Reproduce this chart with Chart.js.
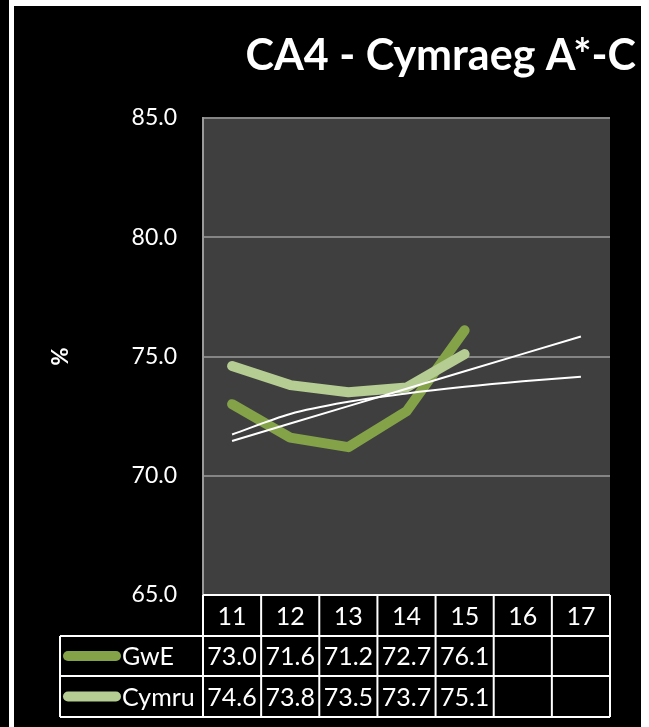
<!DOCTYPE html>
<html>
<head>
<meta charset="utf-8">
<script src="https://cdn.jsdelivr.net/npm/chart.js@4.4.1/dist/chart.umd.min.js"></script>
<style>
  html, body { margin: 0; padding: 0; background: #000; }
  #wrap { width: 649px; height: 727px; position: relative; }
</style>
</head>
<body>
<div id="wrap"><canvas id="chart" width="649" height="727"></canvas></div>
<script>
const blynyddoedd = ['11', '12', '13', '14', '15', '16', '17'];
const gweValues = [73.0, 71.6, 71.2, 72.7, 76.1, null, null];
const cymruValues = [74.6, 73.8, 73.5, 73.7, 75.1, null, null];
// trend lines for GwE (linear and logarithmic), run on to 17
const gweLinearTrend = [71.46, 72.19, 72.92, 73.65, 74.38, 75.11, 75.84];
const gweLogTrend = [71.73, 72.59, 73.10, 73.45, 73.73, 73.96, 74.15];
const yTicks = [65, 70, 75, 80, 85];

const FONT = 'Lato, "Open Sans", sans-serif';
const GWE_COLOUR = '#84a349';
const CYMRU_COLOUR = '#b5cd93';

const rows = [
    { label: 'GwE', values: gweValues, colour: GWE_COLOUR },
    { label: 'Cymru', values: cymruValues, colour: CYMRU_COLOUR }
];

// black card with the white edges, plus the grey plot background
const backdrop = {
    id: 'backdrop',
    beforeDraw(chart) {
        const { ctx, chartArea } = chart;
        ctx.save();
        ctx.fillStyle = '#000';
        ctx.fillRect(0, 0, chart.width, chart.height);
        ctx.fillStyle = '#fff';
        ctx.fillRect(9, 0, 5, chart.height);
        ctx.fillRect(14, 0, 627, 6);
        ctx.fillRect(641, 0, 8, chart.height);
        ctx.fillStyle = '#3f3f3f';
        ctx.fillRect(chartArea.left, chartArea.top, chartArea.right - chartArea.left, chartArea.bottom - chartArea.top);
        ctx.restore();
    }
};

// title and the data table under the plot
const tableAndTitle = {
    id: 'tableAndTitle',
    afterDraw(chart) {
        const { ctx, chartArea } = chart;
        const x = chart.scales.x;
        const step = x.getPixelForValue(1) - x.getPixelForValue(0);
        const y0 = chartArea.bottom, y1 = y0 + 41, y2 = y1 + 40, y3 = y2 + 41;
        const legendLeft = 60;

        ctx.save();
        ctx.fillStyle = '#fff';
        ctx.font = 'bold 43px ' + FONT;
        ctx.textAlign = 'right';
        ctx.textBaseline = 'alphabetic';
        ctx.fillText('CA4 - Cymraeg A*-C', 636, 70);

        ctx.strokeStyle = '#fff';
        ctx.lineWidth = 2;
        ctx.beginPath();
        ctx.moveTo(chartArea.left, y0); ctx.lineTo(chartArea.right, y0);
        [y1, y2, y3].forEach(yy => { ctx.moveTo(legendLeft, yy); ctx.lineTo(chartArea.right, yy); });
        ctx.moveTo(legendLeft, y1); ctx.lineTo(legendLeft, y3);
        for (let i = 0; i <= blynyddoedd.length; i++) {
            const xx = x.getPixelForValue(0) - step / 2 + i * step;
            ctx.moveTo(xx, y0); ctx.lineTo(xx, y3);
        }
        ctx.stroke();

        ctx.font = '25px ' + FONT;
        ctx.textBaseline = 'middle';
        ctx.textAlign = 'center';
        blynyddoedd.forEach((b, i) => ctx.fillText(b, x.getPixelForValue(i), (y0 + y1) / 2 + 1));

        rows.forEach((row, r) => {
            const mid = (r === 0 ? (y1 + y2) : (y2 + y3)) / 2;
            ctx.strokeStyle = row.colour;
            ctx.lineWidth = 10;
            ctx.lineCap = 'round';
            ctx.beginPath();
            ctx.moveTo(68, mid); ctx.lineTo(116, mid);
            ctx.stroke();
            ctx.textAlign = 'left';
            ctx.fillText(row.label, 122, mid + 1);
            ctx.textAlign = 'center';
            row.values.forEach((v, i) => {
                if (v !== null) ctx.fillText(v.toFixed(1), x.getPixelForValue(i), mid + 1);
            });
        });
        ctx.restore();
    }
};

const ctx = document.getElementById('chart').getContext('2d');
new Chart(ctx, {
    type: 'line',
    data: {
        labels: blynyddoedd,
        datasets: [
            {
                label: 'GwE',
                data: gweValues,
                borderColor: GWE_COLOUR,
                borderWidth: 10,
                borderCapStyle: 'round',
                borderJoinStyle: 'round',
                pointRadius: 0,
                order: 4
            },
            {
                label: 'Cymru',
                data: cymruValues,
                borderColor: CYMRU_COLOUR,
                borderWidth: 10,
                borderCapStyle: 'round',
                borderJoinStyle: 'round',
                pointRadius: 0,
                order: 3
            },
            {
                label: 'Llinol (GwE)',
                data: gweLinearTrend,
                borderColor: '#fff',
                borderWidth: 2,
                pointRadius: 0,
                order: 2
            },
            {
                label: 'Log. (GwE)',
                data: gweLogTrend,
                borderColor: '#fff',
                borderWidth: 2,
                pointRadius: 0,
                cubicInterpolationMode: 'monotone',
                order: 1
            }
        ]
    },
    options: {
        responsive: false,
        animation: false,
        layout: { padding: { top: 118, right: 39, bottom: 132, left: 0 } },
        plugins: {
            legend: { display: false },
            tooltip: { enabled: false }
        },
        scales: {
            x: {
                display: false,
                offset: true
            },
            y: {
                min: 65,
                max: 85,
                afterBuildTicks(scale) {
                    scale.ticks = yTicks.map(v => ({ value: v }));
                },
                afterFit(scale) { scale.width = 203; },
                ticks: {
                    color: '#fff',
                    font: { family: FONT, size: 23 },
                    padding: 26,
                    callback: v => Number(v).toFixed(1)
                },
                grid: { color: '#858585', lineWidth: 2, drawTicks: false },
                border: { color: '#9a9a9a', width: 2 },
                title: {
                    display: true,
                    text: '%',
                    color: '#fff',
                    font: { family: FONT, size: 22, weight: 'bold' },
                    padding: { top: 48, bottom: 0 }
                }
            }
        }
    },
    plugins: [backdrop, tableAndTitle]
});
</script>
</body>
</html>
